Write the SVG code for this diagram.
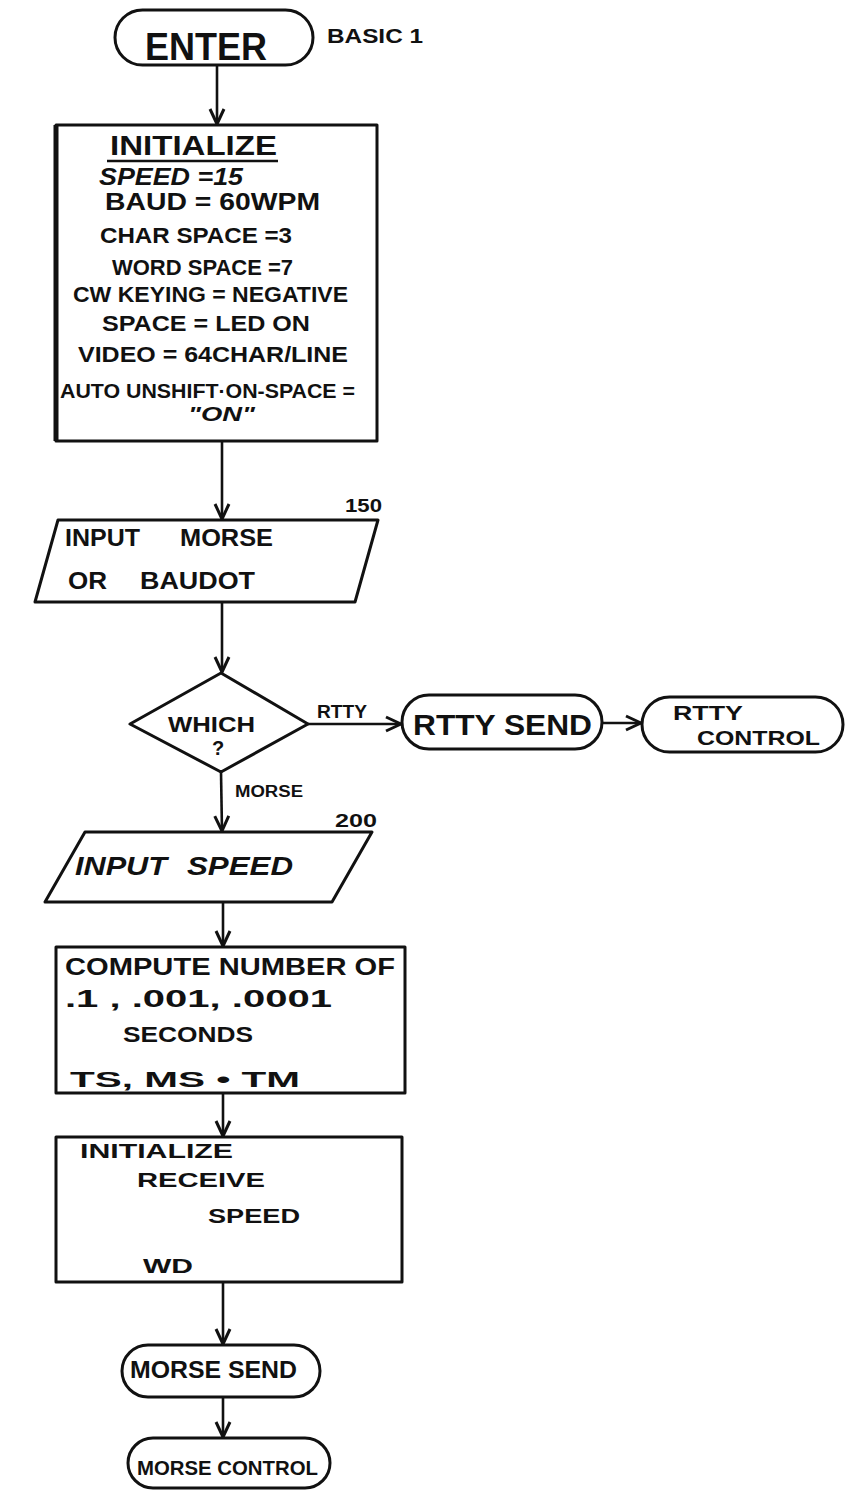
<svg xmlns="http://www.w3.org/2000/svg" width="849" height="1492" viewBox="0 0 849 1492">
<defs>
<style>
.s{fill:#fff;stroke:#111;stroke-width:3;stroke-linejoin:round}
.c{fill:none;stroke:#111;stroke-width:2.6}
text{font-family:"Liberation Sans","DejaVu Sans",sans-serif;font-weight:bold;fill:#111}
.i{font-style:italic}
</style>
<marker id="ah" markerUnits="userSpaceOnUse" markerWidth="20" markerHeight="20" viewBox="0 0 20 20" refX="18" refY="10" orient="auto">
<path d="M3,3 L18,10 L3,17" fill="none" stroke="#111" stroke-width="3" stroke-linejoin="round"/>
</marker>
</defs>
<rect width="849" height="1492" fill="#fff"/>

<g id="connectors">
<path class="c" d="M217,65 L217,124" marker-end="url(#ah)"/>
<path class="c" d="M222,441 L222,519" marker-end="url(#ah)"/>
<path class="c" d="M222,602 L222,672" marker-end="url(#ah)"/>
<path class="c" d="M308,724 L401,724" marker-end="url(#ah)"/>
<path class="c" d="M602,723 L641,723" marker-end="url(#ah)"/>
<path class="c" d="M221,772 L222,831" marker-end="url(#ah)"/>
<path class="c" d="M223,902 L223,946" marker-end="url(#ah)"/>
<path class="c" d="M223,1093 L223,1136" marker-end="url(#ah)"/>
<path class="c" d="M223,1282 L223,1344" marker-end="url(#ah)"/>
<path class="c" d="M223,1397 L223,1437" marker-end="url(#ah)"/>
<text x="317" y="718" font-size="18" textLength="50" lengthAdjust="spacingAndGlyphs">RTTY</text>
<text x="235" y="797" font-size="16" textLength="68" lengthAdjust="spacingAndGlyphs">MORSE</text>
</g>

<g id="enter">
<rect class="s" x="115" y="10" width="198" height="55" rx="27.5"/>
<text x="145" y="60" font-size="38" font-weight="normal" textLength="122" lengthAdjust="spacingAndGlyphs">ENTER</text>
<text x="327" y="43" font-size="20" textLength="96" lengthAdjust="spacingAndGlyphs">BASIC 1</text>
</g>

<g id="initialize">
<rect class="s" x="56" y="125" width="321" height="316"/>
<line x1="56" y1="125" x2="56" y2="441" stroke="#111" stroke-width="5"/>
<text x="110" y="155" font-size="28" font-weight="normal" textLength="167" lengthAdjust="spacingAndGlyphs">INITIALIZE</text>
<line x1="107" y1="161" x2="278" y2="161" stroke="#111" stroke-width="2.5"/>
<text x="99" y="185" font-size="24" class="i" textLength="144" lengthAdjust="spacingAndGlyphs">SPEED =15</text>
<text x="105" y="210" font-size="23" textLength="215" lengthAdjust="spacingAndGlyphs">BAUD = 60WPM</text>
<text x="100" y="243" font-size="22" textLength="192" lengthAdjust="spacingAndGlyphs">CHAR SPACE =3</text>
<text x="112" y="275" font-size="22" textLength="181" lengthAdjust="spacingAndGlyphs">WORD SPACE =7</text>
<text x="73" y="302" font-size="22" textLength="275" lengthAdjust="spacingAndGlyphs">CW KEYING = NEGATIVE</text>
<text x="102" y="331" font-size="22" textLength="208" lengthAdjust="spacingAndGlyphs">SPACE = LED ON</text>
<text x="78" y="362" font-size="22" textLength="270" lengthAdjust="spacingAndGlyphs">VIDEO = 64CHAR/LINE</text>
<text x="60" y="398" font-size="20" textLength="295" lengthAdjust="spacingAndGlyphs">AUTO UNSHIFT·ON-SPACE =</text>
<text x="188" y="421" font-size="21" class="i" textLength="67" lengthAdjust="spacingAndGlyphs">"ON"</text>
</g>

<g id="input-morse">
<polygon class="s" points="58,520 378,520 355,602 35,602"/>
<text x="65" y="546" font-size="23" textLength="75" lengthAdjust="spacingAndGlyphs">INPUT</text>
<text x="180" y="546" font-size="23" textLength="93" lengthAdjust="spacingAndGlyphs">MORSE</text>
<text x="68" y="589" font-size="23" textLength="39" lengthAdjust="spacingAndGlyphs">OR</text>
<text x="140" y="589" font-size="23" textLength="115" lengthAdjust="spacingAndGlyphs">BAUDOT</text>
<text x="345" y="512" font-size="19" font-weight="normal" textLength="37" lengthAdjust="spacingAndGlyphs">150</text>
</g>

<g id="which">
<polygon class="s" points="221,673 308,724 221,772 130,724"/>
<text x="168" y="732" font-size="22" textLength="87" lengthAdjust="spacingAndGlyphs">WHICH</text>
<text x="218" y="755" font-size="20" text-anchor="middle">?</text>
</g>

<g id="rtty-send">
<rect class="s" x="402" y="695" width="200" height="54" rx="27"/>
<text x="413" y="735" font-size="30" font-weight="normal" textLength="179" lengthAdjust="spacingAndGlyphs">RTTY SEND</text>
</g>

<g id="rtty-control">
<rect class="s" x="642" y="697" width="201" height="55" rx="27.5"/>
<text x="673" y="720" font-size="20" textLength="70" lengthAdjust="spacingAndGlyphs">RTTY</text>
<text x="697" y="745" font-size="21" font-weight="normal" textLength="123" lengthAdjust="spacingAndGlyphs">CONTROL</text>
</g>

<g id="input-speed">
<polygon class="s" points="85,832 372,832 332,902 45,902"/>
<text x="75" y="875" font-size="26" class="i" font-weight="normal" textLength="92" lengthAdjust="spacingAndGlyphs">INPUT</text>
<text x="187" y="875" font-size="26" class="i" font-weight="normal" textLength="106" lengthAdjust="spacingAndGlyphs">SPEED</text>
<text x="335" y="827" font-size="18" font-weight="normal" textLength="42" lengthAdjust="spacingAndGlyphs">200</text>
</g>

<g id="compute">
<rect class="s" x="56" y="947" width="349" height="146"/>
<text x="65" y="975" font-size="23" textLength="330" lengthAdjust="spacingAndGlyphs">COMPUTE NUMBER OF</text>
<text x="65" y="1007" font-size="24" font-weight="normal" textLength="267" lengthAdjust="spacingAndGlyphs">.1 , .001,  .0001</text>
<text x="123" y="1042" font-size="22" font-weight="normal" textLength="130" lengthAdjust="spacingAndGlyphs">SECONDS</text>
<text x="70" y="1087" font-size="22" font-weight="normal" textLength="230" lengthAdjust="spacingAndGlyphs">TS,  MS •  TM</text>
</g>

<g id="init-receive">
<rect class="s" x="56" y="1137" width="346" height="145"/>
<text x="80" y="1158" font-size="20" textLength="153" lengthAdjust="spacingAndGlyphs">INITIALIZE</text>
<text x="137" y="1187" font-size="20" textLength="128" lengthAdjust="spacingAndGlyphs">RECEIVE</text>
<text x="208" y="1223" font-size="20" textLength="92" lengthAdjust="spacingAndGlyphs">SPEED</text>
<text x="143" y="1273" font-size="20" textLength="50" lengthAdjust="spacingAndGlyphs">WD</text>
</g>

<g id="morse-send">
<rect class="s" x="122" y="1345" width="198" height="52" rx="26"/>
<text x="130" y="1378" font-size="24" textLength="167" lengthAdjust="spacingAndGlyphs">MORSE SEND</text>
</g>

<g id="morse-control">
<rect class="s" x="128" y="1438" width="202" height="50" rx="25"/>
<text x="137" y="1475" font-size="21" textLength="181" lengthAdjust="spacingAndGlyphs">MORSE CONTROL</text>
</g>
</svg>
